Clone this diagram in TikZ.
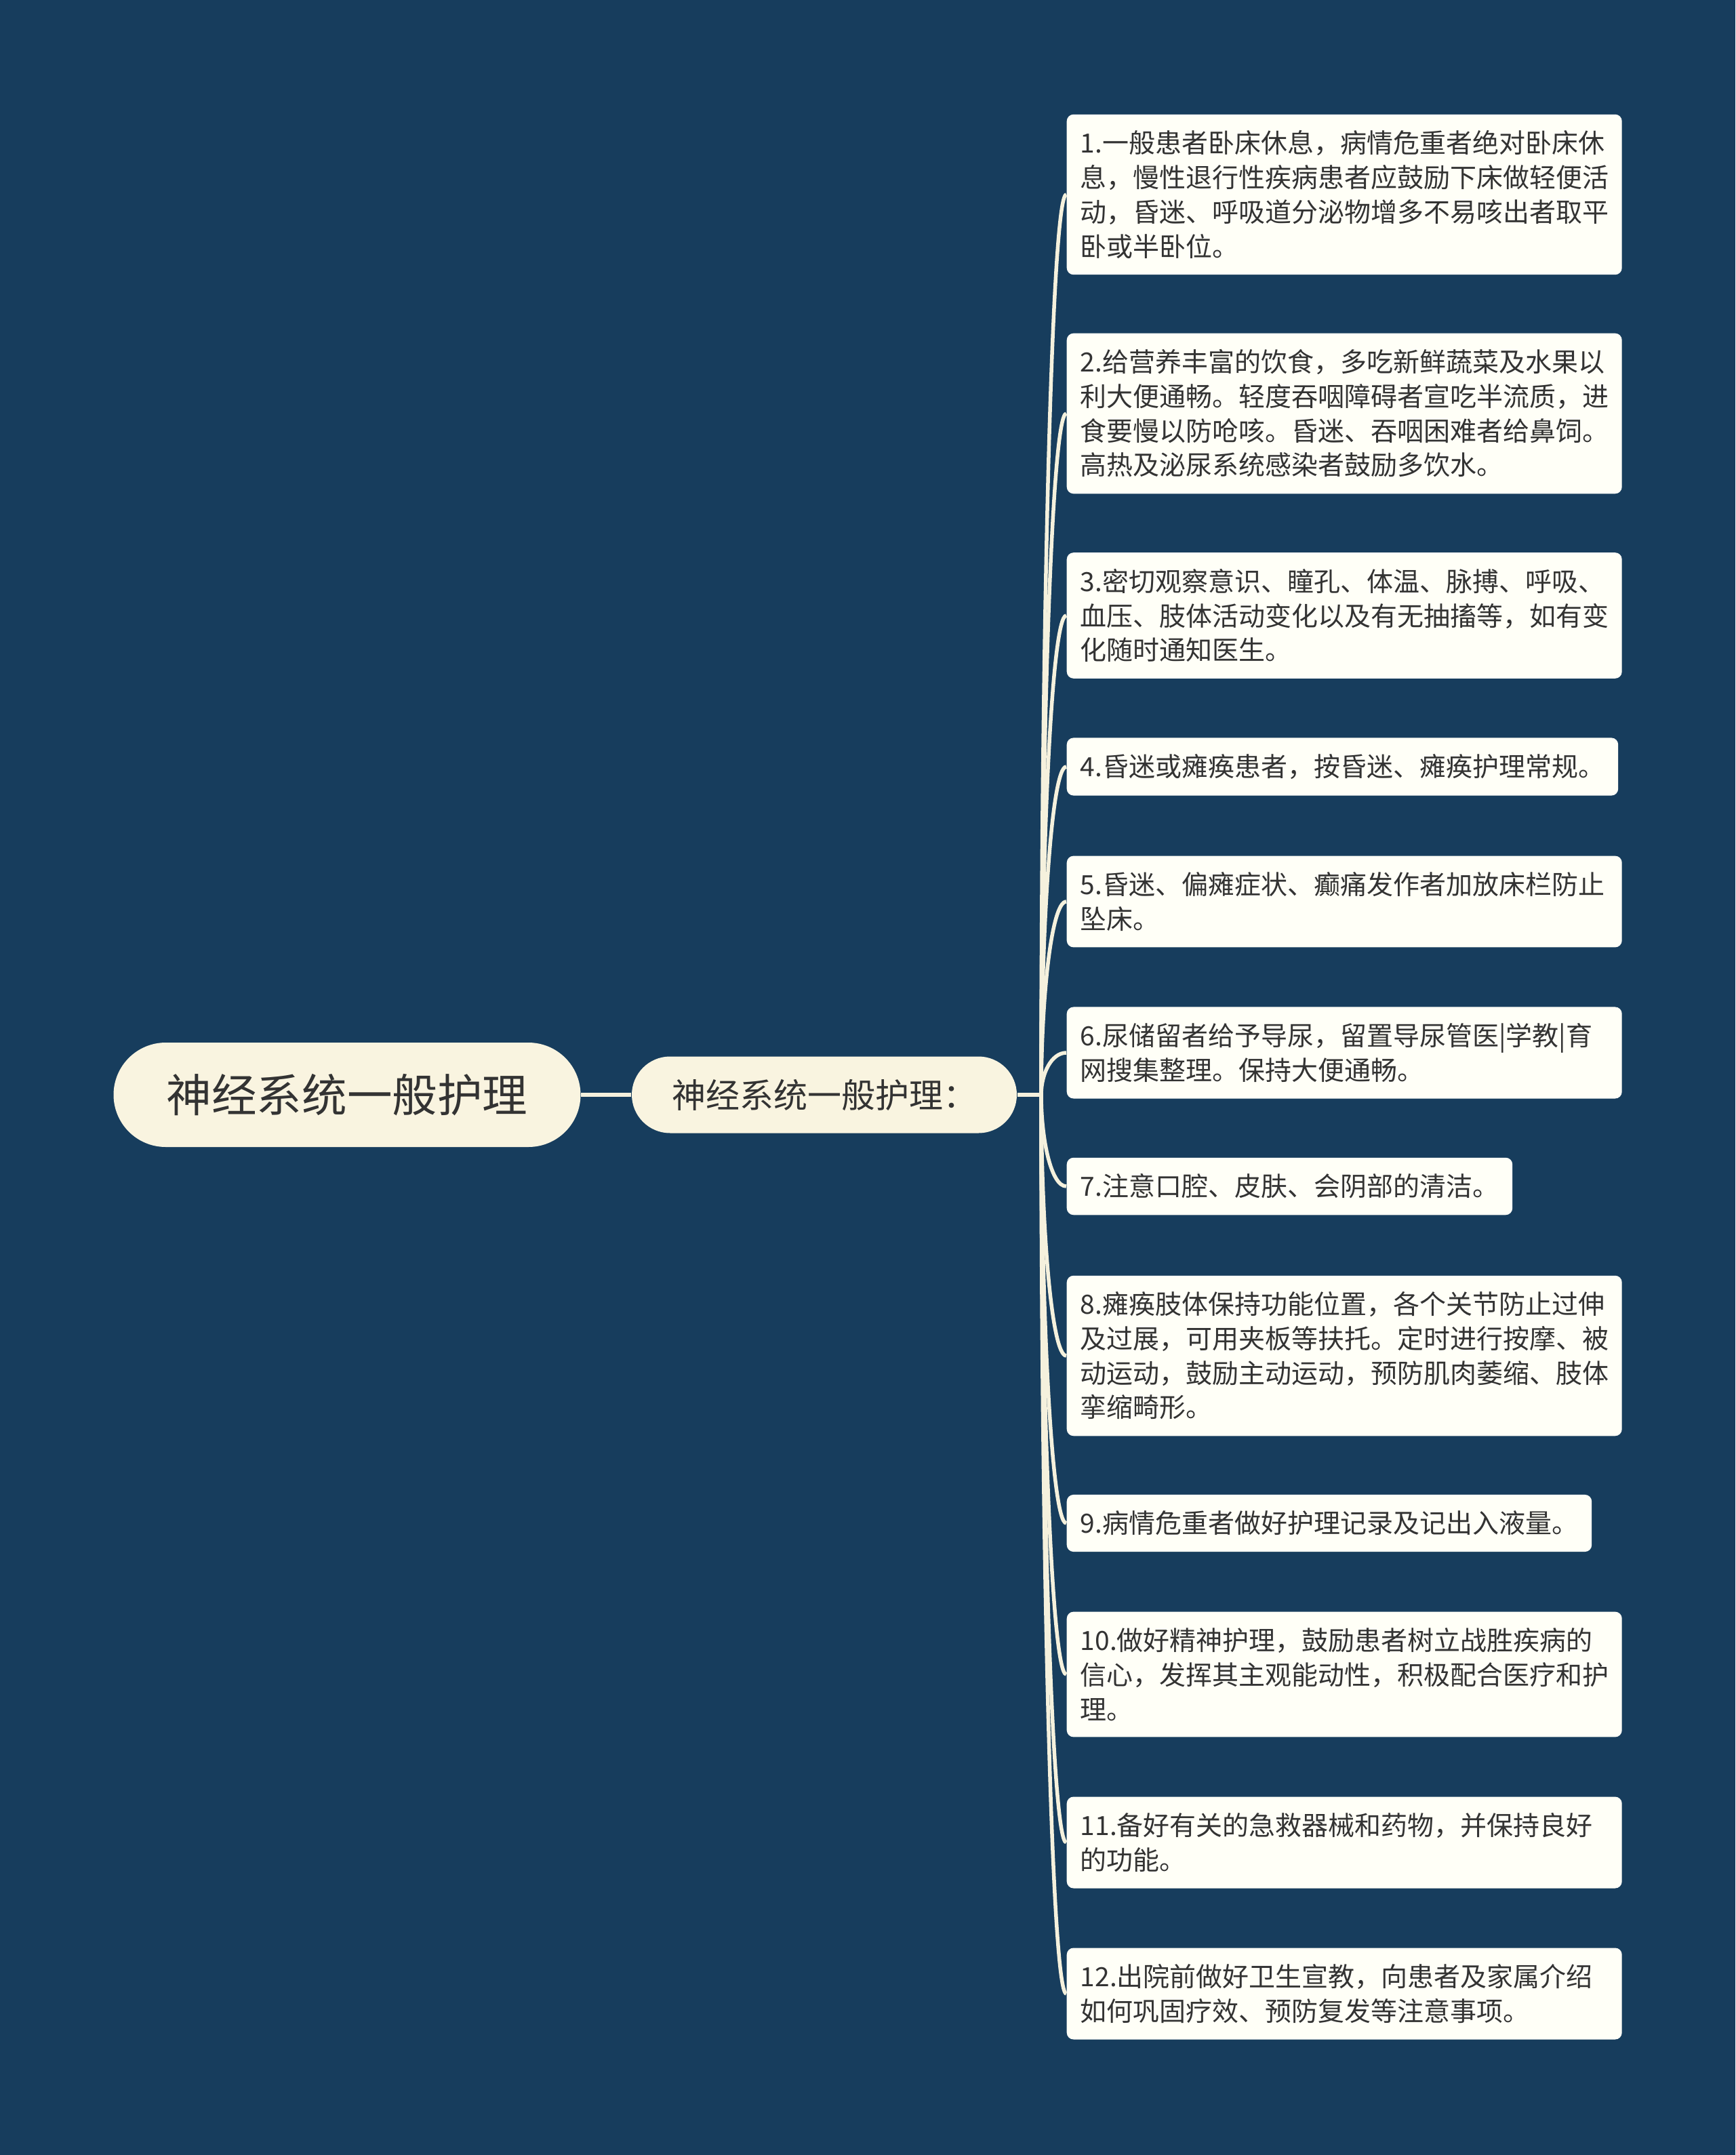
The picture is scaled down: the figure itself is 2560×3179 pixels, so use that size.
\documentclass[tikz,border=0pt]{standalone}
\usepackage{fontspec}
\setmainfont{Noto Sans CJK SC}
\usetikzlibrary{calc}

\definecolor{bgblue}{HTML}{173D5D}
\definecolor{cream}{HTML}{F9F4E0}
\definecolor{paper}{HTML}{FFFFF7}
\definecolor{ink}{HTML}{333333}
\definecolor{wire}{HTML}{F5F1DD}

\begin{document}
\begin{tikzpicture}
      [x = 0.1mm, y = -0.1mm,
      link/.style = {draw = wire, line width = 0.55mm},
      topic/.style = {
         fill = cream,
         text = ink,
         inner sep = 0pt
      },
      leaf/.style = {
         fill = paper,
         text = ink,
         rounded corners = 1mm,
         inner xsep = 2mm,
         inner ysep = 2.4mm,
         anchor = west,
         align = left,
         font = \fontsize{3.9mm}{5.07mm}\selectfont
      },
      wideleaf/.style = {leaf, text width = 77.9mm}]

      \fill[bgblue] (0, 0) rectangle (2560, 3179);
      \useasboundingbox (0, 0) rectangle (2560, 3179);

      \node[topic, rounded corners = 7.7mm, minimum width = 68.9mm,
         minimum height = 15.4mm, font = \fontsize{6.66mm}{8mm}\selectfont]
         (root) at (512, 1615) {神经系统一般护理};
      \node[topic, rounded corners = 5.65mm, minimum width = 56.8mm,
         minimum height = 11.3mm, font = \fontsize{5mm}{6mm}\selectfont]
         (mid) at (1216, 1615) {神经系统一般护理：};
      \coordinate (hub) at (1536, 1615);

      \node[wideleaf] (l1) at (1573, 287) {1.一般患者卧床休息，病情危重者绝对卧床休\\息，慢性退行性疾病患者应鼓励下床做轻便活\\动，昏迷、呼吸道分泌物增多不易咳出者取平\\卧或半卧位。};
      \node[wideleaf] (l2) at (1573, 610) {2.给营养丰富的饮食，多吃新鲜蔬菜及水果以\\利大便通畅。轻度吞咽障碍者宣吃半流质，进\\食要慢以防呛咳。昏迷、吞咽困难者给鼻饲。\\高热及泌尿系统感染者鼓励多饮水。};
      \node[wideleaf] (l3) at (1573, 908) {3.密切观察意识、瞳孔、体温、脉搏、呼吸、\\血压、肢体活动变化以及有无抽搐等，如有变\\化随时通知医生。};
      \node[leaf] (l4) at (1573, 1131) {4.昏迷或瘫痪患者，按昏迷、瘫痪护理常规。};
      \node[wideleaf] (l5) at (1573, 1330) {5.昏迷、偏瘫症状、癫痛发作者加放床栏防止\\坠床。};
      \node[wideleaf] (l6) at (1573, 1553) {6.尿储留者给予导尿，留置导尿管医|学教|育\\网搜集整理。保持大便通畅。};
      \node[leaf] (l7) at (1573, 1750) {7.注意口腔、皮肤、会阴部的清洁。};
      \node[wideleaf] (l8) at (1573, 2000) {8.瘫痪肢体保持功能位置，各个关节防止过伸\\及过展，可用夹板等扶托。定时进行按摩、被\\动运动，鼓励主动运动，预防肌肉萎缩、肢体\\挛缩畸形。};
      \node[leaf] (l9) at (1573, 2247) {9.病情危重者做好护理记录及记出入液量。};
      \node[wideleaf] (l10) at (1573, 2470) {10.做好精神护理，鼓励患者树立战胜疾病的\\信心，发挥其主观能动性，积极配合医疗和护\\理。};
      \node[wideleaf] (l11) at (1573, 2718) {11.备好有关的急救器械和药物，并保持良好\\的功能。};
      \node[wideleaf] (l12) at (1573, 2941) {12.出院前做好卫生宣教，向患者及家属介绍\\如何巩固疗效、预防复发等注意事项。};

      \draw[link] (root) -- (mid);
      \draw[link] (mid.east) -- (hub);
      \foreach \i in {1,...,12} {
         \path (hub |- l\i.west) coordinate (t\i);
         \draw[link] (hub) .. controls ($(hub)!0.5!(t\i)$)
            and ($(l\i.west) + (-22, 0)$) .. (l\i.west);
      }

   \end{tikzpicture}
\end{document}
